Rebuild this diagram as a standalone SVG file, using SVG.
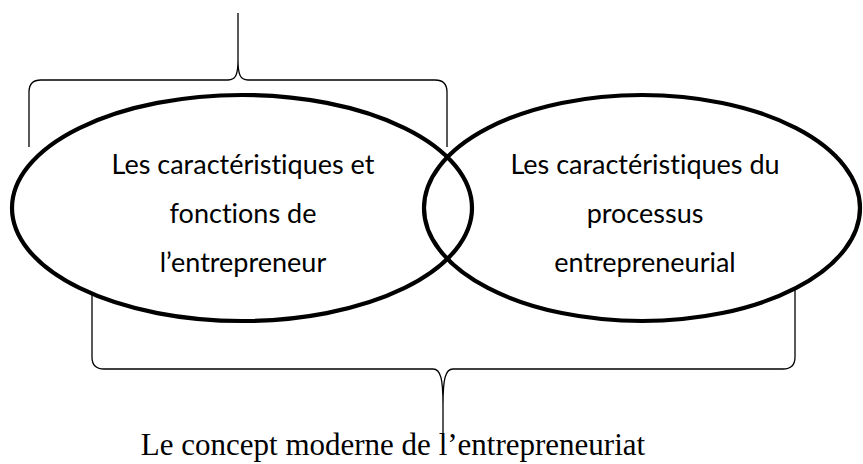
<svg xmlns="http://www.w3.org/2000/svg" width="863" height="464" viewBox="0 0 863 464">
<style>
.brace{fill:none;stroke:#000;stroke-width:1.3}
.ell{fill:none;stroke:#000;stroke-width:4.2}
.lbl{font-family:Lato,"Liberation Sans",sans-serif;font-size:27px;fill:#000;text-anchor:middle;font-variant-ligatures:none}
.cap{font-family:"Liberation Serif","Times New Roman",serif;font-size:31px;fill:#000;text-anchor:middle}
</style>
<rect width="863" height="464" fill="#fff"/>
<g id="connectors">
<path class="brace" d="M29,147 V92 Q29,80 41,80 H228 C236,80 238,74 238,60 V13 M238,60 C238,74 240,80 248,80 H435 Q447,80 447,92 V147"/>
<path class="brace" d="M92,292 V357 Q92,369 104,369 H433 C441,369 443,380 443,405 V442 M443,405 C443,380 445,369 453,369 H783 Q795,369 795,357 V288"/>
</g>
<g id="node-entrepreneur">
<ellipse class="ell" cx="242" cy="208" rx="230" ry="113"/>
<text class="lbl" x="243" y="174">Les caractéristiques et</text>
<text class="lbl" x="243" y="223">fonctions de</text>
<text class="lbl" x="243" y="272">l’entrepreneur</text>
</g>
<g id="node-processus">
<ellipse class="ell" cx="642" cy="208" rx="218" ry="113"/>
<text class="lbl" x="645" y="174">Les caractéristiques du</text>
<text class="lbl" x="645" y="223">processus</text>
<text class="lbl" x="645" y="272">entrepreneurial</text>
</g>
<g id="caption">
<text class="cap" x="393" y="455">Le concept moderne de l’entrepreneuriat</text>
</g>
</svg>
